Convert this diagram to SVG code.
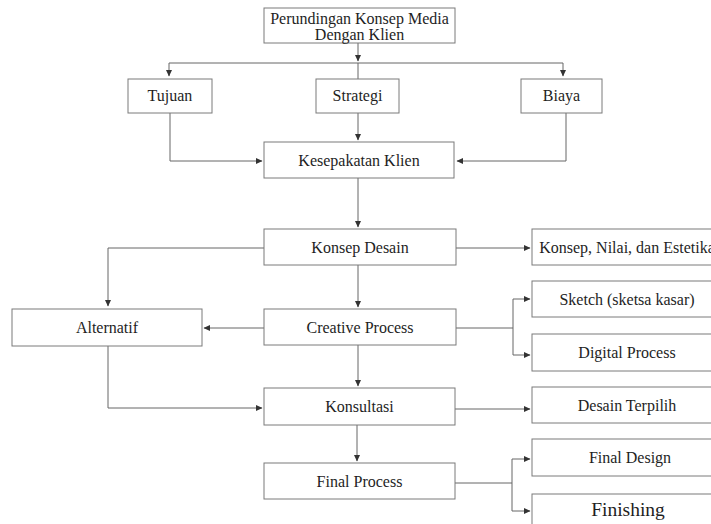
<svg xmlns="http://www.w3.org/2000/svg" width="711" height="524" viewBox="0 0 711 524">
<defs>
<marker id="ah" markerUnits="userSpaceOnUse" markerWidth="7" markerHeight="7" viewBox="0 0 7 7" refX="6" refY="3.5" orient="auto">
<path d="M0,0.5 L6.5,3.5 L0,6.5 Z" fill="#333"/>
</marker>
</defs>
<style>
.box{fill:#fff;stroke:#7a7a7a;stroke-width:1}
text{font-family:'Liberation Serif',serif;font-size:16px;fill:#1e1e1e;text-anchor:middle}
.c{fill:none;stroke:#666;stroke-width:1}
.a{marker-end:url(#ah)}
</style>
<rect width="711" height="524" fill="#fff"/>
<g id="connectors">
<path class="c a" d="M358,43 V61"/>
<path class="c" d="M169,63 H563 M358,63 V79"/>
<path class="c a" d="M169,63 V76"/>
<path class="c a" d="M563,63 V76"/>
<path class="c a" d="M170,113 V161 H262"/>
<path class="c a" d="M358,113 V140"/>
<path class="c a" d="M566,113 V161 H457"/>
<path class="c a" d="M358,178 V227"/>
<path class="c a" d="M456,248 H530"/>
<path class="c a" d="M264,248 H108 V306"/>
<path class="c a" d="M358,265 V307"/>
<path class="c a" d="M264,328 H204"/>
<path class="c" d="M456,328 H513 M513,299 V355"/>
<path class="c a" d="M513,299 H530"/>
<path class="c a" d="M513,355 H530"/>
<path class="c a" d="M358,345 V386"/>
<path class="c a" d="M108,346 V408 H262"/>
<path class="c a" d="M455,409 H530"/>
<path class="c a" d="M357,425 V461"/>
<path class="c" d="M455,483 H512 M512,459 V511"/>
<path class="c a" d="M512,459 H530"/>
<path class="c a" d="M512,511 H530"/>
</g>
<g font-family="Liberation Serif, serif" font-size="16">
<g id="perundingan"><rect class="box" x="264" y="8" width="191" height="35"/><text x="359.5" y="24">Perundingan Konsep Media</text><text x="359.5" y="40">Dengan Klien</text></g>
<g id="tujuan"><rect class="box" x="128" y="79" width="84" height="34"/><text x="170" y="101">Tujuan</text></g>
<g id="strategi"><rect class="box" x="316" y="79" width="83" height="34"/><text x="357.5" y="101">Strategi</text></g>
<g id="biaya"><rect class="box" x="521" y="79" width="81" height="34"/><text x="561.5" y="101">Biaya</text></g>
<g id="kesepakatan"><rect class="box" x="264" y="142" width="190" height="36"/><text x="359" y="165.5">Kesepakatan Klien</text></g>
<g id="konsep-desain"><rect class="box" x="264" y="229" width="192" height="36"/><text x="360" y="252.5">Konsep Desain</text></g>
<g id="konsep-nilai"><rect class="box" x="532" y="229" width="190" height="36"/><text x="627" y="252.5">Konsep, Nilai, dan Estetika</text></g>
<g id="alternatif"><rect class="box" x="12" y="309" width="190" height="37"/><text x="107" y="333">Alternatif</text></g>
<g id="creative"><rect class="box" x="264" y="309" width="192" height="36"/><text x="360" y="332.5">Creative Process</text></g>
<g id="sketch"><rect class="box" x="532" y="281" width="190" height="36"/><text x="627" y="304.5">Sketch (sketsa kasar)</text></g>
<g id="digital"><rect class="box" x="532" y="334" width="190" height="37"/><text x="627" y="358">Digital Process</text></g>
<g id="konsultasi"><rect class="box" x="264" y="388" width="191" height="37"/><text x="359.5" y="412">Konsultasi</text></g>
<g id="desain-terpilih"><rect class="box" x="532" y="387" width="190" height="36"/><text x="627" y="410.5">Desain Terpilih</text></g>
<g id="final-process"><rect class="box" x="264" y="463" width="191" height="36"/><text x="359.5" y="486.5">Final Process</text></g>
<g id="final-design"><rect class="box" x="532" y="439" width="190" height="37"/><text x="630" y="463">Final Design</text></g>
<g id="finishing"><rect class="box" x="532" y="494" width="190" height="40"/><text x="628" y="516" style="font-size:19.5px">Finishing</text></g>
</g>
</svg>
